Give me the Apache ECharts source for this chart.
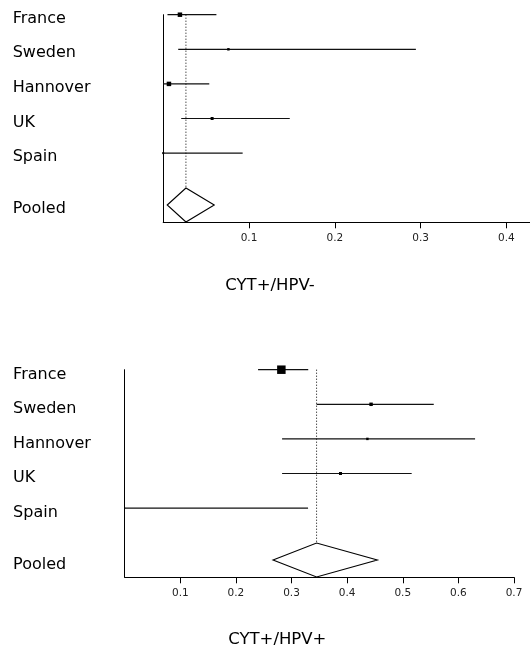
<!DOCTYPE html>
<html><head><meta charset="utf-8">
<script src="https://cdn.jsdelivr.net/npm/echarts@6/dist/echarts.min.js"></script>
<style>html,body{margin:0;padding:0;background:#fff}#c{width:530px;height:649px}</style>
</head><body><div id="c"></div>
<script>
// ---- data ----
const studies = ['France', 'Sweden', 'Hannover', 'UK', 'Spain'];
const pooledName = 'Pooled';
// CYT+/HPV-
const estNeg  = [0.0195, 0.076, 0.0067, 0.057, 0.0];
const lowNeg  = [0.005, 0.0175, 0.0, 0.021, 0.0];
const highNeg = [0.062, 0.2945, 0.0537, 0.1475, 0.0926];
const weightNeg = [20, 6, 20, 9, 4];
const pooledNeg = [0.0047, 0.0265, 0.0595]; // low, estimate, high
const ticksNeg = [0.1, 0.2, 0.3, 0.4];
const titleNeg = 'CYT+/HPV-';
// CYT+/HPV+
const estPos  = [0.2817, 0.443, 0.4364, 0.388, 0.0];
const lowPos  = [0.2398, 0.345, 0.283, 0.283, 0.0];
const highPos = [0.330, 0.5557, 0.630, 0.516, 0.3297];
const weightPos = [72, 12, 6, 9, 1];
const pooledPos = [0.2667, 0.345, 0.4543];
const ticksPos = [0.1, 0.2, 0.3, 0.4, 0.5, 0.6, 0.7];
const titlePos = 'CYT+/HPV+';

// ---- chart ----
const FONT = 'DejaVu Sans';
const pooledRow = studies.length + 0.5;
const rowVals = studies.map((_, i) => i).concat([pooledRow]);
const DH = 0.49;

function studyData(lo, est, hi, w) {
  return studies.map((s, i) => [lo[i], est[i], hi[i], w[i], i]);
}
function renderStudy(params, api) {
  const y = api.value(4);
  const p1 = api.coord([api.value(0), y]);
  const p2 = api.coord([api.value(2), y]);
  const c = api.coord([api.value(1), y]);
  const s = Math.sqrt(api.value(3));
  return {
    type: 'group', children: [
      { type: 'line', shape: { x1: p1[0], y1: p1[1], x2: p2[0], y2: p2[1] }, style: { stroke: '#111', lineWidth: 1.2 } },
      { type: 'rect', shape: { x: c[0] - s / 2, y: c[1] - s / 2, width: s, height: s }, style: { fill: '#000' } }
    ]
  };
}
function renderPooled(params, api) {
  const lo = api.value(0), est = api.value(1), hi = api.value(2), y = api.value(3);
  const L = api.coord([lo, y]), R = api.coord([hi, y]);
  const T = api.coord([est, y - DH]), B = api.coord([est, y + DH]);
  const top0 = api.coord([est, 0]);
  return {
    type: 'group', children: [
      { type: 'line', shape: { x1: top0[0], y1: top0[1], x2: T[0], y2: T[1] }, style: { stroke: '#000', lineWidth: 1, lineDash: [1, 2] } },
      { type: 'polygon', shape: { points: [L, T, R, B] }, style: { fill: 'none', stroke: '#000', lineWidth: 1.1 } }
    ]
  };
}
function xAxisCfg(idx, max, ticks) {
  return {
    type: 'value', gridIndex: idx, min: 0, max: max, interval: 0.1,
    splitLine: { show: false },
    axisLine: { show: true, onZero: false, lineStyle: { color: '#000', width: 1 } },
    axisTick: { show: true, length: 6, customValues: ticks, lineStyle: { color: '#000' } },
    axisLabel: { customValues: ticks, margin: 10, fontFamily: FONT, fontSize: 10.5, color: '#222',
      formatter: v => String(Math.round(v * 10) / 10) }
  };
}
function yAxisLine(idx) {
  return {
    type: 'value', gridIndex: idx, position: 'left', min: 0, max: 6, inverse: true,
    splitLine: { show: false },
    axisLine: { show: true, onZero: false, lineStyle: { color: '#000', width: 1 } },
    axisTick: { show: false },
    axisLabel: { show: false }
  };
}
// label axis: same rows, nudged a few pixels lower to sit like the reference text
function yAxisLabels(idx, margin, nudge) {
  return {
    type: 'value', gridIndex: idx, position: 'left', offset: 0, min: -nudge, max: 6 - nudge, inverse: true,
    splitLine: { show: false },
    axisLine: { show: false, onZero: false },
    axisTick: { show: false },
    axisLabel: { customValues: rowVals, align: 'left', margin: margin, fontFamily: FONT, fontSize: 16, color: '#000',
      formatter: v => (v === pooledRow ? pooledName : studies[v]) }
  };
}

const chart = echarts.init(document.getElementById('c'), null, { renderer: 'canvas' });
chart.setOption({
  animation: false,
  backgroundColor: '#fff',
  grid: [
    { left: 163.2, top: 14.7, width: 366.8, height: 207.6, containLabel: false, outerBoundsMode: 'none' },
    { left: 124.7, top: 369.7, width: 389.3, height: 207.6, containLabel: false, outerBoundsMode: 'none' }
  ],
  xAxis: [xAxisCfg(0, 0.4275, ticksNeg), xAxisCfg(1, 0.7, ticksPos)],
  yAxis: [yAxisLine(0), yAxisLine(1), yAxisLabels(0, 150.5, 0.115), yAxisLabels(1, 111.6, 0.135)],
  graphic: [
    { type: 'text', x: 270, y: 285.5, style: { text: titleNeg, font: '16.5px "DejaVu Sans"', fill: '#000', align: 'center', verticalAlign: 'middle' } },
    { type: 'text', x: 277.3, y: 639.5, style: { text: titlePos, font: '16.5px "DejaVu Sans"', fill: '#000', align: 'center', verticalAlign: 'middle' } }
  ],
  series: [
    { type: 'custom', xAxisIndex: 0, yAxisIndex: 0, clip: false, renderItem: renderStudy,
      encode: { x: [0, 1, 2], y: 4 }, data: studyData(lowNeg, estNeg, highNeg, weightNeg) },
    { type: 'custom', xAxisIndex: 0, yAxisIndex: 0, clip: false, renderItem: renderPooled,
      encode: { x: [0, 1, 2], y: 3 }, data: [pooledNeg.concat([pooledRow])] },
    { type: 'custom', xAxisIndex: 1, yAxisIndex: 1, clip: false, renderItem: renderStudy,
      encode: { x: [0, 1, 2], y: 4 }, data: studyData(lowPos, estPos, highPos, weightPos) },
    { type: 'custom', xAxisIndex: 1, yAxisIndex: 1, clip: false, renderItem: renderPooled,
      encode: { x: [0, 1, 2], y: 3 }, data: [pooledPos.concat([pooledRow])] }
  ]
});
</script>
</body></html>
